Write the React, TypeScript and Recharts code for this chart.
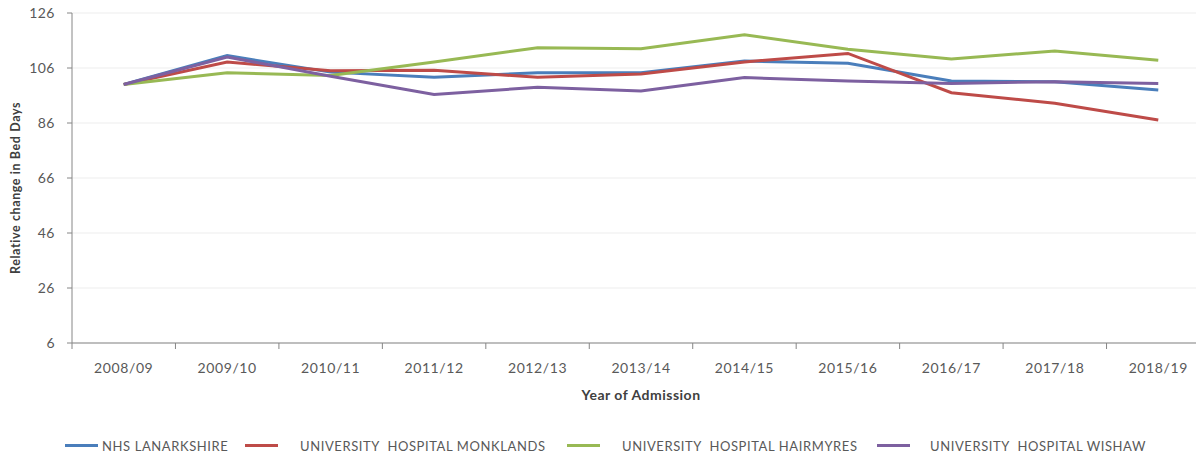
import React from 'react';
import { LineChart, Line, XAxis, YAxis, CartesianGrid, Label } from 'recharts';

const years = ['2008/09', '2009/10', '2010/11', '2011/12', '2012/13', '2013/14', '2014/15', '2015/16', '2016/17', '2017/18', '2018/19'];
const lanarkshire = [100, 110.5, 104.5, 102.6, 104.3, 104.3, 108.5, 107.7, 101.3, 101, 98];
const monklands = [100, 108.2, 105, 105.2, 102.6, 103.8, 108.2, 111.3, 97, 93.2, 87.1];
const hairmyres = [100, 104.3, 103.3, 108.2, 113.4, 113, 118.1, 112.8, 109.3, 112.2, 108.8];
const wishaw = [100, 110, 103, 96.4, 99, 97.6, 102.5, 101.3, 100.4, 101, 100.4];
const yTicks = [6, 26, 46, 66, 86, 106, 126];

const seriesNames = ['NHS LANARKSHIRE', 'UNIVERSITY  HOSPITAL MONKLANDS', 'UNIVERSITY  HOSPITAL HAIRMYRES', 'UNIVERSITY  HOSPITAL WISHAW'];
const seriesKeys = ['nhs', 'monklands', 'hairmyres', 'wishaw'];
const seriesColors = ['#4A7EBB', '#BE4B48', '#98B954', '#7D60A0'];

const data = years.map((y, i) => ({
  year: y,
  nhs: lanarkshire[i],
  monklands: monklands[i],
  hairmyres: hairmyres[i],
  wishaw: wishaw[i],
}));

const W = 1215;
const H = 457;
const M = { top: 13, right: 5, left: 0, bottom: 64 };
const Y_W = 72;
const X_H = 50;
const BAND = (W - M.left - M.right - Y_W) / years.length;
const AXIS = '#868686';
const FONT = 'Lato, "Open Sans", sans-serif';

// legend swatch / text left edges
const legendPos = [
  { line: 65, text: 102 },
  { line: 245, text: 300 },
  { line: 567, text: 622 },
  { line: 877, text: 930 },
];

function XTick(props: any) {
  const { x, y, payload, index } = props;
  return (
    <g>
      <line x1={x - BAND / 2} x2={x - BAND / 2} y1={y} y2={y + 6} stroke={AXIS} />
      {index === years.length - 1 && <line x1={x + BAND / 2} x2={x + BAND / 2} y1={y} y2={y + 6} stroke={AXIS} />}
      <text x={x} y={y + 30} textAnchor="middle" fill="#595959" fontSize={14} letterSpacing={0.6} fontFamily={FONT}>
        {payload.value}
      </text>
    </g>
  );
}

export default function App() {
  return (
    <div style={{ position: 'absolute', left: 0, top: 0, width: 1196, height: H, overflow: 'hidden', background: '#fff', fontFamily: FONT }}>
      <LineChart width={W} height={H} data={data} margin={M}>
        <CartesianGrid vertical={false} stroke="#EDEDED" />
        <XAxis
          dataKey="year"
          height={X_H}
          stroke={AXIS}
          tickSize={0}
          tickMargin={0}
          tickLine={false}
          tick={<XTick />}
          interval={0}
          padding={{ left: BAND / 2, right: BAND / 2 }}
        >
          <Label
            content={() => (
              <text x={641} y={400} textAnchor="middle" fill="#404040" fontSize={14} fontWeight="bold" letterSpacing={0.5} fontFamily={FONT}>
                Year of Admission
              </text>
            )}
          />
        </XAxis>
        <YAxis
          width={Y_W}
          domain={[6, 126]}
          ticks={yTicks}
          interval={0}
          stroke={AXIS}
          tickSize={5}
          tickMargin={12}
          tick={{ fill: '#595959', fontSize: 14, fontFamily: FONT, letterSpacing: 0.5 }}
        >
          <Label
            content={() => (
              <text
                x={17}
                y={188}
                transform="rotate(-90 17 188)"
                textAnchor="middle"
                dominantBaseline="middle"
                fill="#404040"
                fontSize={12.5}
                fontWeight="bold"
                letterSpacing={0.6}
                fontFamily={FONT}
              >
                Relative change  in Bed Days
              </text>
            )}
          />
        </YAxis>
        {seriesKeys.map((k, i) => (
          <Line
            key={k}
            type="linear"
            dataKey={k}
            name={seriesNames[i]}
            stroke={seriesColors[i]}
            strokeWidth={3}
            dot={false}
            activeDot={false}
            isAnimationActive={false}
          />
        ))}
      </LineChart>
      {seriesNames.map((n, i) => (
        <React.Fragment key={n}>
          <div style={{ position: 'absolute', left: legendPos[i].line, top: 444, width: 33, height: 3, background: seriesColors[i] }} />
          <div
            style={{
              position: 'absolute',
              left: legendPos[i].text,
              top: 439,
              fontSize: 13,
              letterSpacing: 0.6,
              color: '#595959',
              whiteSpace: 'pre',
              lineHeight: '14px',
            }}
          >
            {n}
          </div>
        </React.Fragment>
      ))}
    </div>
  );
}
